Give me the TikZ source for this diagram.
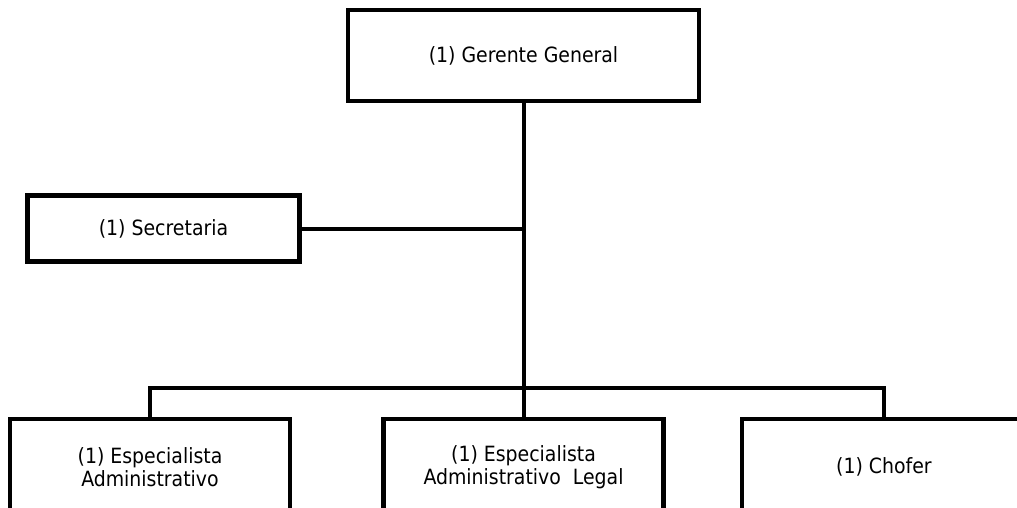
\documentclass[tikz,border=0pt]{standalone}
\usepackage{fontspec}
\setmainfont{DejaVu Sans Condensed}
\begin{document}
\begin{tikzpicture}[x=1pt,y=-1pt,
  box/.style={draw, line width=4.5pt, rectangle, inner sep=0pt, align=center,
    font=\fontsize{21}{23}\selectfont},
  link/.style={line width=4pt}]
\useasboundingbox (0,0) rectangle (1017,508);
\clip (0,0) rectangle (1017,508);
% top position
\node[box, minimum width=351pt, minimum height=91pt] (gg) at (523.5,55.5) {(1) Gerente General};
% staff position
\node[box, minimum width=272pt, minimum height=66pt] (sec) at (163.5,228.5) {(1) Secretaria};
% subordinate positions (bottom edges run off the page)
\node[box, minimum width=280pt, minimum height=96pt] (esa) at (150,467) {(1) Especialista\\Administrativo};
\node[box, minimum width=280pt, minimum height=96pt] (esl) at (523.5,467) {(1) Especialista\\Administrativo\ \ Legal};
\node[box, minimum width=284pt, minimum height=96pt] (cho) at (884,467) {(1) Chofer};
% connectors
\coordinate (bus) at (523.5,388);
\draw[link] (gg.south) -- (esl.north);
\draw[link] (sec.east) -- (sec.east -| gg.south);
\draw[link] (esa.north) |- (cho.north |- bus) -- (cho.north);
\end{tikzpicture}
\end{document}
